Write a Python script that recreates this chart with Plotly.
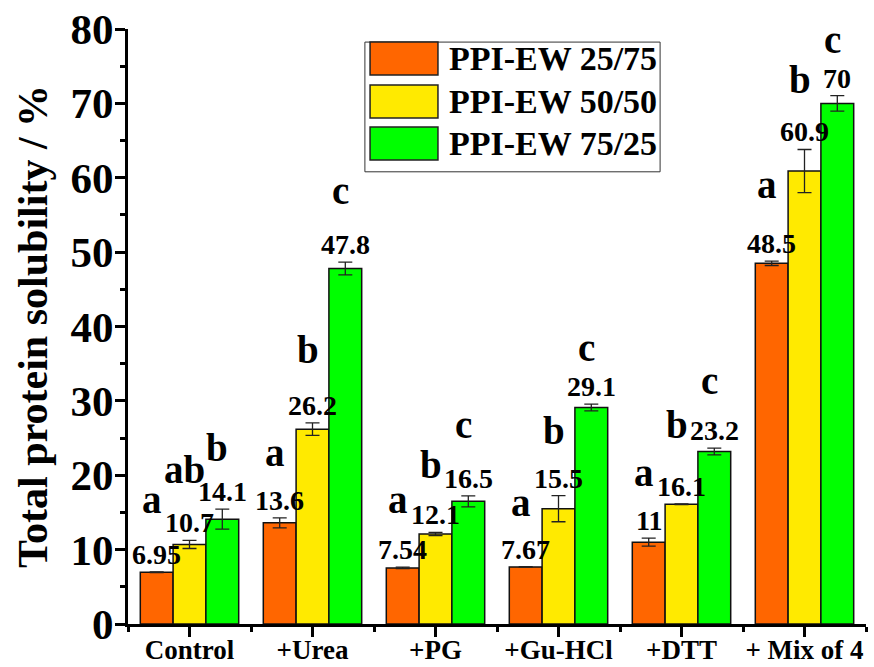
import plotly.graph_objects as go

categories = ["Control", "+Urea", "+PG", "+Gu-HCl", "+DTT", "+ Mix of 4"]
series_names = ["PPI-EW 25/75", "PPI-EW 50/50", "PPI-EW 75/25"]
values_25_75 = [6.95, 13.6, 7.54, 7.67, 11, 48.5]
values_50_50 = [10.7, 26.2, 12.1, 15.5, 16.1, 60.9]
values_75_25 = [14.1, 47.8, 16.5, 29.1, 23.2, 70]
errors_25_75 = [0.05, 0.67, 0.1, 0.03, 0.54, 0.3]
errors_50_50 = [0.55, 0.83, 0.22, 1.75, 0.05, 2.9]
errors_75_25 = [1.35, 0.85, 0.74, 0.45, 0.45, 1.05]
letters_25_75 = ["a", "a", "a", "a", "a", "a"]
letters_50_50 = ["ab", "b", "b", "b", "b", "b"]
letters_75_25 = ["b", "c", "c", "c", "c", "c"]
y_ticks = [0, 10, 20, 30, 40, 50, 60, 70, 80]

# layout-only: baseline heights (in axis units) where the significance letters sit
letter_base_25_75 = [15.06, 21.38, 15.06, 14.66, 18.69, 57.4]
letter_base_50_50 = [19.09, 35.23, 19.76, 24.34, 25.14, 71.5]
letter_base_75_25 = [22.05, 56.6, 25.14, 35.5, 31.06, 76.9]

colors = ["#FF6600", "#FFEA00", "#00FF00"]
FONT = "Liberation Serif"

values = [values_25_75, values_50_50, values_75_25]
errors = [errors_25_75, errors_50_50, errors_75_25]
letters = [letters_25_75, letters_50_50, letters_75_25]
letter_base = [letter_base_25_75, letter_base_50_50, letter_base_75_25]

xpos = list(range(len(categories)))
bar_w = 0.8 / 3
offsets = [-bar_w, 0, bar_w]

fig = go.Figure()
for j in range(3):
    fig.add_trace(go.Bar(
        x=xpos, y=values[j], name=series_names[j],
        marker=dict(color=colors[j], line=dict(color="#111111", width=1.5)),
        error_y=dict(type="data", array=errors[j], color="#222222", thickness=1.3, width=7),
        showlegend=False,
    ))

annotations = []
for j in range(3):
    for i in xpos:
        v = values[j][i]
        e = errors[j][i]
        annotations.append(dict(
            x=i + offsets[j], y=v + e, xref="x", yref="y",
            text=f"<b>{v:g}</b>", showarrow=False, yanchor="bottom",
            yshift=0, font=dict(family=FONT, size=28, color="black")))
        annotations.append(dict(
            x=i + offsets[j], y=letter_base[j][i], xref="x", yref="y",
            text=f"<b>{letters[j][i]}</b>", showarrow=False, yanchor="bottom",
            xshift=-5, yshift=-11, font=dict(family=FONT, size=39, color="black")))

# legend drawn manually (large swatches)
shapes = []
lx0, lx1, ly0, ly1 = 0.321, 0.721, 0.760, 0.978
shapes.append(dict(type="rect", xref="paper", yref="paper", x0=lx0, x1=lx1, y0=ly0, y1=ly1,
                   line=dict(color="#333333", width=1), fillcolor="white"))
row_centers = [0.9504, 0.8782, 0.8076]
sw_h = 33 / 595
for j in range(3):
    yc = row_centers[j]
    shapes.append(dict(type="rect", xref="paper", yref="paper", x0=0.328, x1=0.420,
                       y0=yc - sw_h / 2, y1=yc + sw_h / 2,
                       line=dict(color="#222222", width=1.5), fillcolor=colors[j]))
    annotations.append(dict(x=0.432, y=yc, xref="paper", yref="paper", xanchor="left",
                            yanchor="middle", showarrow=False, text=f"<b>{series_names[j]}</b>",
                            font=dict(family=FONT, size=34, color="black")))

fig.update_layout(
    width=874, height=667,
    margin=dict(l=128, r=8, t=29, b=43),
    paper_bgcolor="white", plot_bgcolor="white",
    barmode="group", bargap=0.2, bargroupgap=0,
    annotations=annotations, shapes=shapes,
    showlegend=False,
    xaxis=dict(
        range=[-0.5, 5.5], tickmode="array", tickvals=xpos, ticktext=[f"<b>{c}</b>" for c in categories],
        showline=True, linecolor="black", linewidth=3, ticks="outside", ticklen=10, tickwidth=3,
        tickcolor="black", showgrid=False, zeroline=False, automargin=False,
        ticklabelstandoff=-10,
        tickfont=dict(family=FONT, size=27, color="black"),
        minor=dict(tickmode="array", tickvals=[k - 0.5 for k in range(len(categories) + 1)],
                   ticks="outside", ticklen=5, tickwidth=3, tickcolor="black"),
    ),
    yaxis=dict(
        range=[0, 80], tickmode="array", tickvals=y_ticks, ticktext=[f"<b>{t}</b>" for t in y_ticks],
        showline=True, linecolor="black", linewidth=3, ticks="outside", ticklen=10, tickwidth=3,
        tickcolor="black", showgrid=False, zeroline=False, automargin=False,
        ticklabelstandoff=-7,
        tickfont=dict(family=FONT, size=43, color="black"),
        minor=dict(dtick=5, ticks="outside", ticklen=5, tickwidth=3, tickcolor="black"),
        title=dict(text="<b>Total protein solubility / %</b>", font=dict(family=FONT, size=42, color="black"),
                   standoff=10),
    ),
)

fig.write_html("out.html", config={"displayModeBar": False},
               post_script="document.body.style.margin='0';document.body.style.overflow='hidden';")
